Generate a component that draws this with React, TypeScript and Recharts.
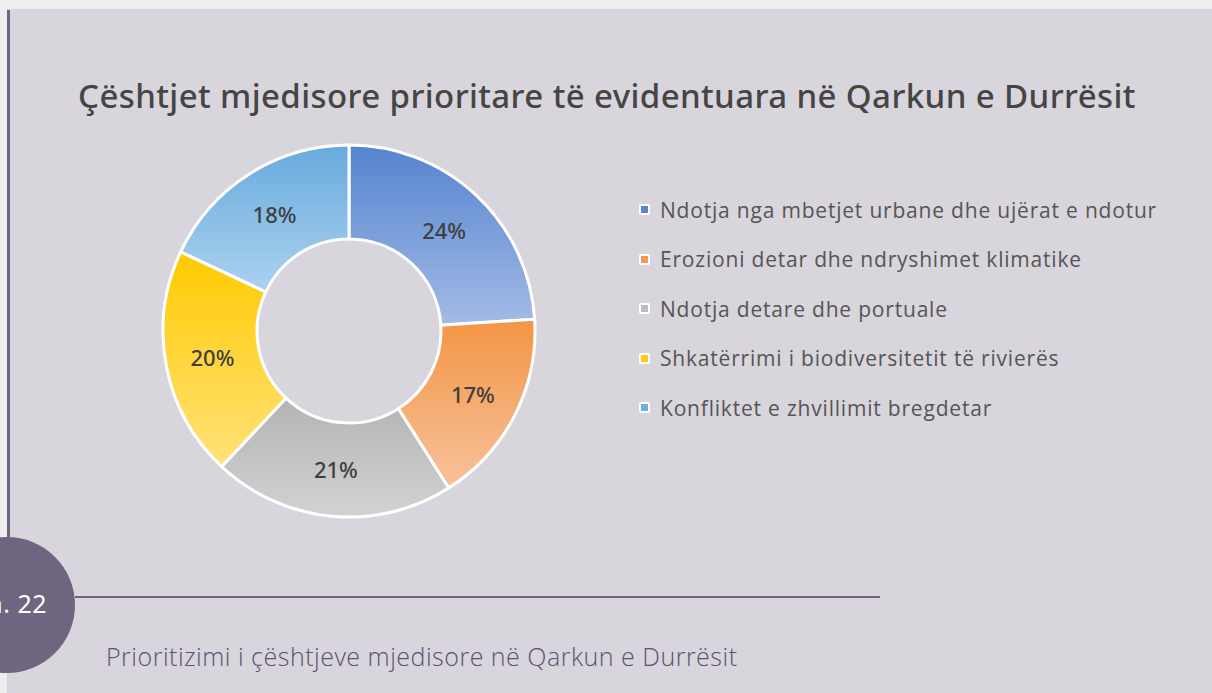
import React from "react";
import { PieChart, Pie, Cell } from "recharts";

const categories = [
  "Ndotja nga mbetjet urbane dhe ujërat e ndotur",
  "Erozioni detar dhe ndryshimet klimatike",
  "Ndotja detare dhe portuale",
  "Shkatërrimi i biodiversitetit të rivierës",
  "Konfliktet e zhvillimit bregdetar",
];
const values = [24, 17, 21, 20, 18];
const colorsTop = ["#5584cf", "#f39544", "#b4b4b4", "#ffca00", "#68aadd"];
const colorsBottom = ["#a3bbe6", "#f8c29c", "#d2d2d2", "#ffe27a", "#acd2ef"];
const legendColors = ["#5b86cf", "#f39a55", "#bdbdbd", "#ffcc10", "#6fb0e0"];

const title = "Çështjet mjedisore prioritare të evidentuara në Qarkun e Durrësit";
const caption = "Prioritizimi i çështjeve mjedisore në Qarkun e Durrësit";
const badge = "n. 22";

const data = categories.map((name, i) => ({ name, value: values[i] }));

const RAD = Math.PI / 180;
const renderLabel = (p: any) => {
  const r = (p.innerRadius + p.outerRadius) / 2;
  const x = p.cx + r * Math.cos(-p.midAngle * RAD);
  const y = p.cy + r * Math.sin(-p.midAngle * RAD);
  return (
    <text
      x={x}
      y={y}
      textAnchor="middle"
      dominantBaseline="central"
      fill="#3f3f3f"
      fontSize={22}
      fontFamily="'Noto Sans', sans-serif"
      fontWeight={500}
    >
      {`${Math.round(p.percent * 100)}%`}
    </text>
  );
};

const ChartLegend = () => (
  <div style={{ position: "absolute", left: 639, top: 185 }}>
    {categories.map((c, i) => (
      <div key={c} style={{ display: "flex", alignItems: "center", height: 49.5 }}>
        <div
          style={{
            width: 7,
            height: 7,
            background: legendColors[i],
            border: "2px solid #ffffff",
            borderRadius: 2,
            marginRight: 10,
          }}
        />
        <span
          style={{
            fontFamily: "'Open Sans', sans-serif",
            fontSize: 21,
            letterSpacing: 0.8,
            color: "#555555",
            whiteSpace: "nowrap",
          }}
        >
          {c}
        </span>
      </div>
    ))}
  </div>
);

export default function App() {
  return (
    <div style={{ position: "absolute", left: 0, top: 0, width: 1212, height: 693, background: "#eeeeee", overflow: "hidden" }}>
      <div style={{ position: "absolute", left: 7, top: 9, width: 1205, height: 684, background: "#d8d5dc" }} />
      <div style={{ position: "absolute", left: 7, top: 10, width: 3, height: 530, background: "#6e6680" }} />
      <div style={{ position: "absolute", left: 75, top: 596, width: 805, height: 2, background: "#6e6680" }} />
      <div style={{ position: "absolute", left: 7 - 68, top: 605 - 68, width: 136, height: 136, borderRadius: "50%", background: "#6e6680" }} />
      <div style={{ position: "absolute", right: 1212 - 47, top: 588, fontFamily: "'Noto Sans', sans-serif", fontSize: 25, letterSpacing: 0.5, color: "#ffffff", whiteSpace: "nowrap", lineHeight: "30px" }}>{badge}</div>
      <div style={{ position: "absolute", left: 106, top: 640, fontFamily: "'Open Sans', sans-serif", fontWeight: 300, fontSize: 25, letterSpacing: 0.5, color: "#5a5270", whiteSpace: "nowrap", lineHeight: "32px" }}>{caption}</div>
      <div style={{ position: "absolute", left: 0, top: 0 }}>
        <PieChart width={1212} height={693} margin={{ top: 0, right: 0, bottom: 0, left: 0 }}>
          <defs>
            {colorsTop.map((c, i) => (
              <linearGradient key={i} id={`g${i}`} x1="0" y1="0" x2="0" y2="1">
                <stop offset="0%" stopColor={c} />
                <stop offset="100%" stopColor={colorsBottom[i]} />
              </linearGradient>
            ))}
          </defs>
          <text x={607} y={108} textAnchor="middle" fill="#454545" fontSize={33} letterSpacing={0.4} fontFamily="'Noto Sans', sans-serif" fontWeight={500}>
            {title}
          </text>
          <Pie
            data={data}
            dataKey="value"
            nameKey="name"
            cx={349}
            cy={331}
            innerRadius={92}
            outerRadius={186}
            startAngle={90}
            endAngle={-270}
            stroke="#ffffff"
            strokeWidth={3}
            label={renderLabel}
            labelLine={false}
            isAnimationActive={false}
          >
            {data.map((d, i) => (
              <Cell key={d.name} fill={`url(#g${i})`} />
            ))}
          </Pie>
        </PieChart>
      </div>
      <ChartLegend />
    </div>
  );
}
